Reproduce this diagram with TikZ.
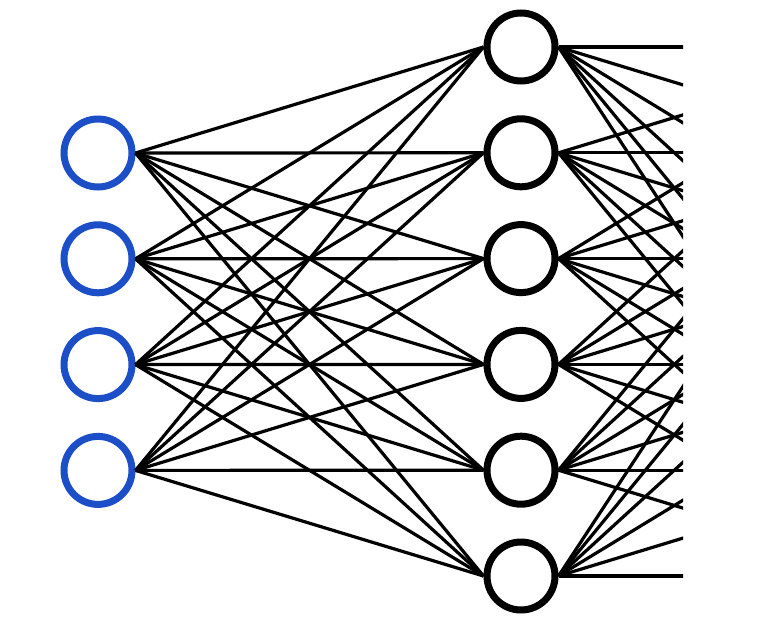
\documentclass[tikz,border=0pt]{standalone}
\usetikzlibrary{calc}
\definecolor{inblue}{RGB}{28,78,200}
\tikzset{
  neuron/.style={circle, draw, line width=7pt, minimum size=68pt, inner sep=0pt, fill=white},
  inneuron/.style={neuron, draw=inblue},
  hidneuron/.style={neuron, draw=black},
  link/.style={line width=3.2pt, black},
}
\begin{document}
\begin{tikzpicture}[x=1pt,y=-1pt]
\useasboundingbox (0,0) rectangle (773,631);
% hidden layer positions
\foreach \i in {1,...,6} {
  \coordinate (o\i) at (906,{47+105.8*(\i-1)});
}
% edges input -> hidden
\foreach \i in {1,...,4} {
  \path (98,{153+105.8*(\i-1)}) coordinate (pi\i);
}
\foreach \i in {1,...,4} {
  \node[inneuron] (x\i) at (pi\i) {};
}
\foreach \j in {1,...,6} {
  \node[hidneuron] (h\j) at (521,{47+105.8*(\j-1)}) {};
}
\foreach \i in {1,...,4} {
  \foreach \j in {1,...,6} {
    \draw[link] (x\i.east) -- (h\j.west);
  }
}
\begin{scope}
\clip (0,0) rectangle (683,631);
\foreach \j in {1,...,6} {
  \foreach \k in {1,...,6} {
    \draw[link] (h\j.east) -- (o\k);
  }
}
\end{scope}
\end{tikzpicture}
\end{document}
